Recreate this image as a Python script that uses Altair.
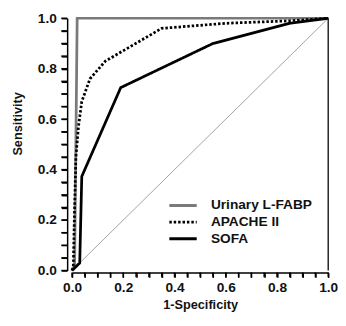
import altair as alt
import pandas as pd

series_names = ["Urinary L-FABP", "APACHE II", "SOFA"]

urinary_x = [0.0, 0.01, 0.02, 1.0]
urinary_y = [0.0, 0.02, 1.0, 1.0]

apache_x = [0.0, 0.005, 0.01, 0.015, 0.025, 0.038, 0.07, 0.13, 0.35, 0.6, 0.85, 1.0]
apache_y = [0.0, 0.02, 0.25, 0.45, 0.57, 0.67, 0.76, 0.83, 0.96, 0.98, 0.99, 1.0]

sofa_x = [0.0, 0.03, 0.038, 0.19, 0.55, 0.85, 1.0]
sofa_y = [0.0, 0.03, 0.373, 0.725, 0.90, 0.98, 1.0]

tick_values = [round(i * 0.05, 2) for i in range(21)]

rows = []
for name, xs_, ys_ in zip(series_names, [urinary_x, apache_x, sofa_x], [urinary_y, apache_y, sofa_y]):
    for i, (x, y) in enumerate(zip(xs_, ys_)):
        rows.append({"series": name, "x": x, "y": y, "idx": i})
df = pd.DataFrame(rows)
ticks_df = pd.DataFrame({"v": tick_values})

W, H = 262, 258
FONT = "Liberation Sans"
label_expr = "abs(datum.value*5 - round(datum.value*5)) < 0.001 ? format(datum.value, '.1f') : ''"

x_axis = alt.Axis(
    values=tick_values, labelExpr=label_expr, title="1-Specificity", grid=False,
    offset=2, domainColor="black", domainWidth=1.5,
    tickColor="black", tickWidth=1.5, tickSize=5,
    labelFont=FONT, labelFontWeight="bold", labelFontSize=14, labelColor="#111",
    labelPadding=3, titleFont=FONT, titleFontWeight="bold", titleFontSize=13, titleColor="#111",
    titlePadding=5, labelFlush=False, labelOverlap=False,
)
y_axis = alt.Axis(
    values=tick_values, labelExpr=label_expr, title="Sensitivity", grid=False,
    offset=5, domainColor="black", domainWidth=1.5,
    tickColor="black", tickWidth=1.5, tickSize=6,
    labelFont=FONT, labelFontWeight="bold", labelFontSize=14, labelColor="#111",
    labelPadding=5, titleFont=FONT, titleFontWeight="bold", titleFontSize=13, titleColor="#111",
    titleX=-51, titleY=107.5, titleAngle=270, titleAlign="center", titleBaseline="middle",
    labelFlush=False, labelOverlap=False,
)

xs = alt.Scale(domain=[0, 1], nice=False, zero=False)
ys = alt.Scale(domain=[0, 1], nice=False, zero=False)

diag_df = pd.DataFrame({"x": [0.0], "y": [0.0], "x2": [1.0], "y2": [1.0]})
diag = alt.Chart(diag_df).mark_rule(color="#8a8a8a", strokeWidth=0.8).encode(
    x=alt.X("x:Q", scale=xs, axis=x_axis),
    y=alt.Y("y:Q", scale=ys, axis=y_axis),
    x2="x2:Q", y2="y2:Q",
)

border_df = pd.DataFrame({"x": [1.0], "y": [0.0], "y2": [1.0]})
border = alt.Chart(border_df).mark_rule(color="#222", strokeWidth=1.5).encode(
    x=alt.X("x:Q", scale=xs, axis=x_axis), y=alt.Y("y:Q", scale=ys, axis=y_axis), y2="y2:Q"
)

# tick marks every 0.05, positioned through the scales (backup for the axis ticks)
xticks = alt.Chart(ticks_df).mark_rule(color="black", strokeWidth=1.5, clip=False).encode(
    x=alt.X("v:Q", scale=xs, axis=x_axis),
    y=alt.value(H + 2), y2=alt.value(H + 7),
)
yticks = alt.Chart(ticks_df).mark_rule(color="black", strokeWidth=1.5, clip=False).encode(
    y=alt.Y("v:Q", scale=ys, axis=y_axis),
    x=alt.value(-5), x2=alt.value(-11),
)

legend = alt.Legend(title=None, orient="none", legendX=98, legendY=185,
                    symbolType="stroke", symbolSize=784, symbolStrokeWidth=3,
                    labelFont=FONT, labelFontWeight="bold", labelFontSize=14,
                    labelColor="#111", labelOffset=13, rowPadding=2, clipHeight=13, padding=0)

lines = alt.Chart(df).mark_line(strokeWidth=2.8, clip=False).encode(
    x=alt.X("x:Q", scale=xs, axis=x_axis),
    y=alt.Y("y:Q", scale=ys, axis=y_axis),
    order="idx:Q",
    color=alt.Color("series:N", sort=series_names,
                    scale=alt.Scale(domain=series_names, range=["#7a7a7a", "#000000", "#000000"]),
                    legend=legend),
    strokeDash=alt.StrokeDash("series:N", sort=series_names,
                              scale=alt.Scale(domain=series_names, range=[[1, 0], [2.5, 2], [1, 0]]),
                              legend=legend),
)

chart = alt.layer(diag, border, xticks, yticks, lines).properties(
    width=W, height=H,
    padding={"left": 3.5, "top": 0, "right": 0, "bottom": 0},
).configure_view(strokeWidth=0)

chart.save("out.html", embed_options={"renderer": "svg", "actions": False})
